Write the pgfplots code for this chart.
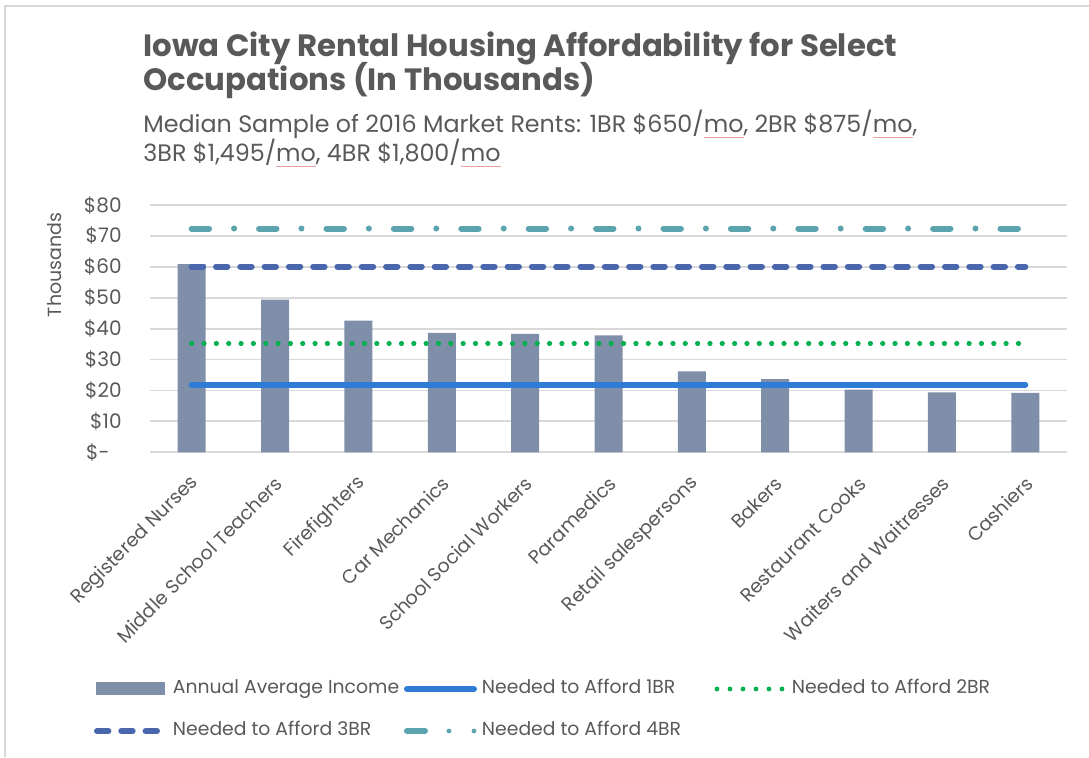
\documentclass[border=0pt]{standalone}
\usepackage{pgfplots}
\pgfplotsset{compat=1.18}
\usepackage{pgfplotstable}
\usepackage{fontspec}
\setmainfont{Poppins}

\definecolor{txt}{HTML}{595959}
\definecolor{barc}{HTML}{7F8FA9}
\definecolor{oneBR}{HTML}{2E7CD6}
\definecolor{twoBR}{HTML}{00B050}
\definecolor{threeBR}{HTML}{4A66AC}
\definecolor{fourBR}{HTML}{5BA3AD}
\definecolor{gridc}{HTML}{D9D9D9}
\definecolor{spell}{HTML}{E8A0A0}

% spell-check underline seen in the original
\newcommand\squig[1]{\setbox0\hbox{#1}\rlap{\textcolor{spell}{\rule[-2.4pt]{\wd0}{0.5pt}}}\box0}

% annual average income, thousands of dollars
\pgfplotstableread{
x y
0 60.9
1 49.4
2 42.6
3 38.6
4 38.3
5 37.8
6 26.2
7 23.7
8 20.3
9 19.4
10 19.2
}\incometable

\begin{document}
\begin{tikzpicture}
\path[use as bounding box] (0,0) rectangle (544.5pt,378.5pt);
\draw[gridc, line width=0.8pt] (2.5pt,0) -- (2.5pt,375.5pt) -- (544.5pt,375.5pt);

\begin{axis}[
    at={(75pt,152.35pt)}, anchor=south west,
    scale only axis,
    width=458.5pt, height=123.65pt,
    xmin=-0.5, xmax=10.5,
    ymin=0, ymax=80,
    clip=false,
    axis line style={draw=none},
    major tick length=0pt,
    ymajorgrids=true,
    grid style={gridc, line width=0.9pt},
    ytick={0,10,...,80},
    yticklabels={\$-\kern6pt,\$10,\$20,\$30,\$40,\$50,\$60,\$70,\$80},
    yticklabel style={font=\fontsize{10}{12}\selectfont, text=txt, inner sep=0pt, anchor=east, xshift=-14pt},
    xtick={0,...,10},
    xticklabels={Registered Nurses,Middle School Teachers,Firefighters,Car Mechanics,School Social Workers,Paramedics,Retail salespersons,Bakers,Restaurant Cooks,Waiters and Waitresses,Cashiers},
    xticklabel style={font=\fontsize{9.5}{11}\selectfont, text=txt, inner sep=0pt, xshift=2pt, yshift=-13.8pt, rotate=45, anchor=east},
    legend columns=3,
    legend style={at={(axis description cs:-0.0611,-0.9207)}, anchor=north west,
        draw=none, fill=none, inner sep=0pt, outer sep=0pt,
        font=\fontsize{9.4}{11}\selectfont, text=txt,
        column sep=0pt, row sep=12pt,
        nodes={inner sep=0pt, text height=7pt, text depth=2pt}},
    legend cell align=left,
]
\addplot[ybar, bar width=14pt, fill=barc, draw=none,
    legend image code/.code={\path[draw=none, fill=none] (0pt,-3.25pt) rectangle (39.5pt,3.25pt);
        \fill[barc, draw=none] (1pt,-3.25pt) rectangle (35.5pt,3.25pt);}]
    table[x=x, y=y] {\incometable};
\addlegendentry{\makebox[115.5pt][l]{Annual Average Income}}

\addplot[oneBR, line width=3pt, line cap=round,
    legend image code/.code={\path[draw=none, fill=none] (0pt,-3.25pt) rectangle (39pt,3.25pt);
        \draw[oneBR, solid, line width=3pt, line cap=round] (1.5pt,0pt) -- (35pt,0pt);}]
    coordinates {(0,21.9) (10,21.9)};
\addlegendentry{\makebox[112.5pt][l]{Needed to Afford 1BR}}

\addplot[twoBR, line width=2.6pt, line cap=round, dash pattern=on 0pt off 6.17pt,
    legend image code/.code={\path[draw=none, fill=none] (0pt,-3.25pt) rectangle (42.5pt,3.25pt);
        \foreach \k in {0,...,5} {\fill[twoBR, draw=none, solid] ({(5+6.5*\k)*1pt},0pt) circle (1.2pt);}}]
    coordinates {(0,35.2) (10,35.2)};
\addlegendentry{Needed to Afford 2BR}

\addplot[threeBR, line width=3pt, line cap=round, dash pattern=on 5.7pt off 6.45pt,
    legend image code/.code={\path[draw=none, fill=none] (0pt,-3.25pt) rectangle (39.5pt,3.25pt);
        \draw[threeBR, line width=3pt, line cap=round, dash pattern=on 5.7pt off 6.45pt] (1.5pt,0pt) -- (33pt,0pt);}]
    coordinates {(0,60.1) (10,60.1)};
\addlegendentry{\makebox[115.5pt][l]{Needed to Afford 3BR}}

\addplot[fourBR, line width=3pt, line cap=round, dash pattern=on 8.7pt off 12.5pt on 0pt off 12.5pt,
    legend image code/.code={\path[draw=none, fill=none] (0pt,-3.25pt) rectangle (39pt,3.25pt);
        \draw[fourBR, solid, line width=3pt, line cap=round] (1.5pt,0pt) -- (10.5pt,0pt);
        \fill[fourBR, draw=none, solid] (22.5pt,0pt) circle (1.2pt);
        \fill[fourBR, draw=none, solid] (35pt,0pt) circle (1.2pt);}]
    coordinates {(0,72.4) (10,72.4)};
\addlegendentry{\makebox[112.5pt][l]{Needed to Afford 4BR}}
\end{axis}

\node[rotate=90, text=txt, font=\fontsize{9.5}{11}\selectfont] at (27.5pt,246pt) {Thousands};

\node[anchor=base west, inner sep=0pt, text=txt, font=\bfseries\fontsize{15.4}{17}\selectfont] at (71.5pt,350pt) {Iowa City Rental Housing Affordability for Select};
\node[anchor=base west, inner sep=0pt, text=txt, font=\bfseries\fontsize{15.4}{17}\selectfont] at (71.5pt,333pt) {Occupations (In Thousands)};
\node[anchor=base west, inner sep=0pt, text=txt, font=\fontsize{11.9}{13}\selectfont] at (71.5pt,312pt) {Median Sample of 2016 Market Rents: 1BR \$650/\squig{mo}, 2BR \$875/\squig{mo},};
\node[anchor=base west, inner sep=0pt, text=txt, font=\fontsize{11.9}{13}\selectfont] at (71.5pt,297.5pt) {3BR \$1,495/\squig{mo}, 4BR \$1,800/\squig{mo}};
\end{tikzpicture}
\end{document}
